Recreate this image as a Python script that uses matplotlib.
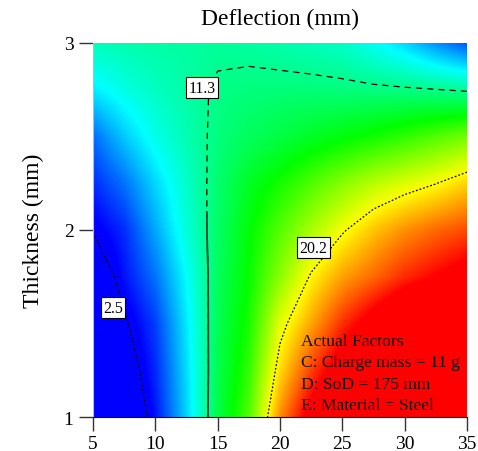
import numpy as np
import matplotlib
matplotlib.use("Agg")
import matplotlib.pyplot as plt
from matplotlib.colors import LinearSegmentedColormap
from matplotlib.patches import Rectangle

plt.rcParams['font.family'] = ['Liberation Serif', 'DejaVu Serif']

# grid of the response surface
distance = [5, 7.5, 10, 12.5, 15, 17.5, 20, 22.5, 25, 27.5, 30, 32.5, 35]
thickness = [1.0, 1.25, 1.5, 1.75, 2.0, 2.25, 2.5, 2.75, 3.0]
deflection = [
    [-4.0, 0.0, 3.4, 7.8, 12.9, 16.3, 22.8, 27.0, 30.0, 33.0, 35.0, 37.0, 38.0],
    [-2.7, 1.1, 3.9, 8.0, 12.7, 15.6, 21.0, 24.5, 27.5, 30.0, 32.0, 33.7, 35.0],
    [-1.5, 2.2, 4.4, 8.3, 12.6, 15.0, 19.6, 22.2, 24.9, 27.0, 29.0, 30.5, 32.0],
    [0.5, 3.4, 5.6, 8.8, 12.4, 14.6, 17.6, 20.4, 22.3, 23.6, 25.0, 26.0, 27.0],
    [2.6, 4.0, 6.8, 9.6, 12.2, 14.3, 16.4, 18.3, 20.0, 21.5, 22.7, 23.6, 24.3],
    [4.0, 5.6, 7.9, 10.0, 12.0, 13.7, 14.9, 16.2, 17.5, 18.6, 19.4, 20.15, 21.2],
    [5.5, 7.6, 9.3, 10.5, 11.7, 12.4, 13.0, 13.6, 14.2, 14.8, 15.5, 16.3, 17.0],
    [8.4, 9.4, 10.2, 10.8, 11.5, 11.7, 11.8, 11.8, 11.7, 11.6, 11.5, 11.35, 11.1],
    [10.4, 10.6, 10.8, 10.9, 11.0, 10.9, 10.6, 10.3, 10.0, 9.0, 7.8, 6.2, 4.8],
]
levels = [2.5, 11.3, 20.2]
label_pos = [(6.6, 1.585), (13.75, 2.76), (22.7, 1.905)]
factors = ["Actual Factors", "C: Charge mass = 11 g", "D: SoD = 175 mm", "E: Material = Steel"]

x = np.array(distance)
y = np.array(thickness)
z = np.array(deflection)

cmap = LinearSegmentedColormap.from_list(
    "de", ["#0000ff", "#00ffff", "#00ff00", "#ffff00", "#ff0000"])

fig = plt.figure(figsize=(4.78, 4.52), dpi=100)
ax = fig.add_axes([0.1946, 0.0752, 0.7824, 0.8275])

dx = (x[1] - x[0]) / 2
dy = (y[1] - y[0]) / 2
ax.imshow(z, origin='lower', cmap=cmap, vmin=3, vmax=26, aspect='auto',
          extent=[x[0] - dx, x[-1] + dx, y[0] - dy, y[-1] + dy],
          interpolation='bilinear', interpolation_stage='data')

ax.contour(x, y, z, levels=[levels[0]], colors='k', linewidths=0.9,
           linestyles=[(0, (1.5, 1.5))])
ax.contour(x, y, z, levels=[levels[2]], colors='k', linewidths=0.9,
           linestyles=[(0, (1.5, 1.5))])
ax.contour(x, y, z, levels=[levels[1]], colors='k', linewidths=0.9,
           linestyles=[(0, (5, 4))])
# lower part of the 11.3 line is drawn solid in the original
solid = ax.contour(x, y, z, levels=[levels[1]], colors='#0b4a38', linewidths=1.3)
solid.set_clip_path(Rectangle((5, 1), 30, 1.1, transform=ax.transData))

for lev, (lx, ly) in zip(levels, label_pos):
    ax.text(lx, ly, f"{lev:g}", fontsize=11.5, ha='center', va='center', zorder=5,
            bbox=dict(boxstyle='square,pad=0.15', fc='white', ec='black', lw=0.8))

ax.text(0.555, 0.225, "\n".join(factors), transform=ax.transAxes, fontsize=12.6,
        ha='left', va='top', linespacing=1.45, color='#111111')

ax.set_xlim(5, 35)
ax.set_ylim(1, 3)
ax.set_xticks([5, 10, 15, 20, 25, 30, 35])
ax.set_yticks([1, 2, 3])
ax.tick_params(axis='both', labelsize=14, length=10, width=1, color='#333333')
ax.tick_params(axis='x', pad=3)
ax.tick_params(axis='y', pad=4)
for s in ['top', 'right']:
    ax.spines[s].set_visible(False)
ax.spines['left'].set_color('#bbbbbb')
ax.spines['bottom'].set_color('black')

ax.set_title("Deflection (mm)", fontsize=17, pad=14)
ax.set_ylabel("Thickness (mm)", fontsize=17, labelpad=14)

fig.savefig("out.png", dpi=100)
